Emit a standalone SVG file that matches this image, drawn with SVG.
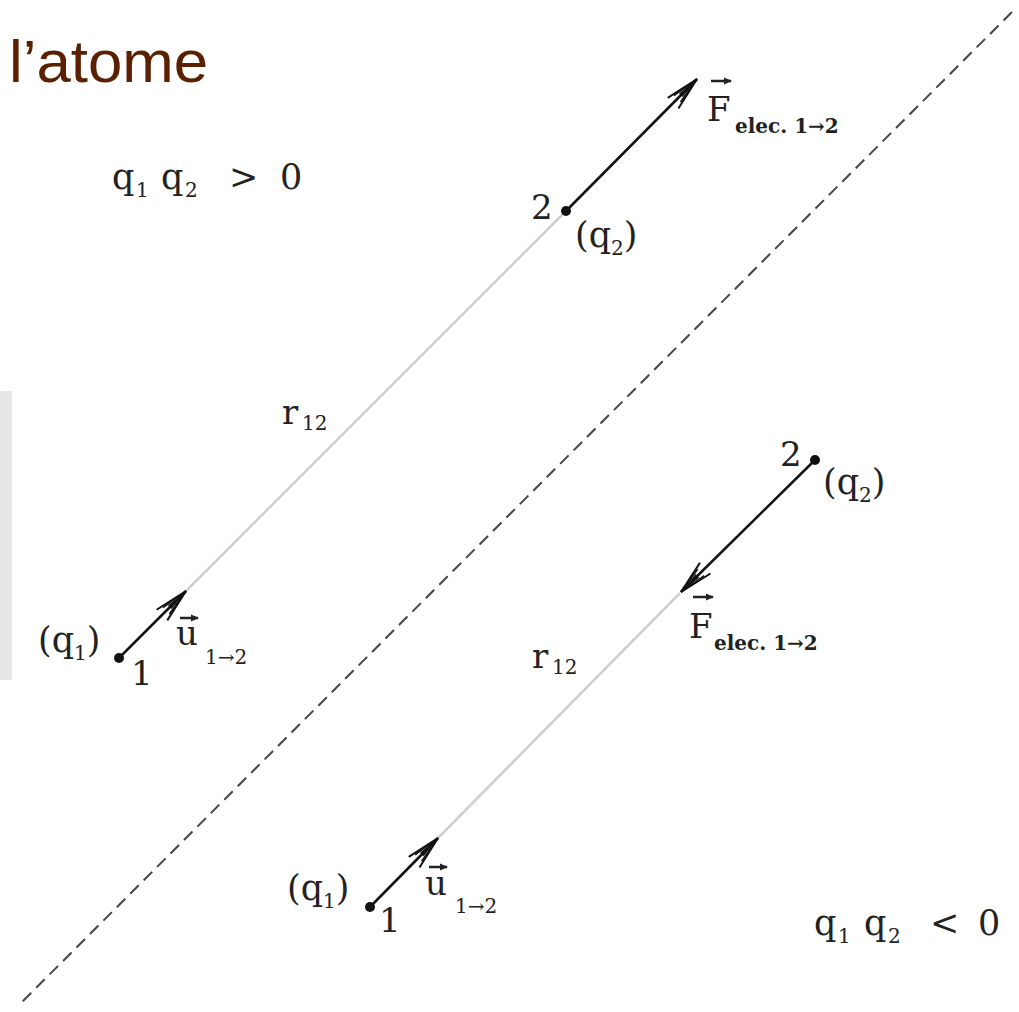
<svg xmlns="http://www.w3.org/2000/svg" width="1019" height="1012" viewBox="0 0 1019 1012">
<style>
.m{font-family:"DejaVu Serif","Liberation Serif",serif;fill:#222;}
.big{font-size:35px;}
.sub{font-size:20px;}
.lab{font-size:34px;}
.el{font-size:20px;font-weight:bold;}
.vec{stroke:#222;stroke-width:2.5;}
.r12{stroke:#cfcfcf;stroke-width:2.5;}
.arr{stroke:#111;stroke-width:2.5;}
</style>
<defs>
<marker id="harp" viewBox="0 0 36 20" refX="35" refY="10" markerUnits="userSpaceOnUse" markerWidth="36" markerHeight="20" orient="auto">
<path d="M1,2.5 L35,10 L1,17.5" fill="none" stroke="#111" stroke-width="2"/>
<path d="M7,5.5 L35,10 L7,14.5" fill="none" stroke="#111" stroke-width="1.5"/>
<path d="M12,7.5 L35,10 L12,12.5 Z" fill="#111"/>
</marker>
<marker id="vh" viewBox="0 0 8 8" refX="7" refY="4" markerUnits="userSpaceOnUse" markerWidth="8" markerHeight="8" orient="auto">
<path d="M0,0.5 L8,4 L0,7.5 Z" fill="#222"/>
</marker>
</defs>
<rect x="0" y="0" width="1019" height="1012" fill="#ffffff"/>
<rect id="sidebar" x="0" y="391" width="12" height="289" fill="#e6e6e6"/>
<text id="title" x="9" y="82" font-family="Liberation Sans, Arial, sans-serif" font-size="60" fill="#5a2000" textLength="199" lengthAdjust="spacingAndGlyphs">l’atome</text>

<g id="connectors">
<line id="divider" x1="1012" y1="12" x2="18" y2="1006" stroke="#444" stroke-width="2" stroke-dasharray="12 7"/>
<line class="r12" x1="186" y1="591" x2="566" y2="211"/>
<line class="arr" x1="119" y1="658" x2="186" y2="591" marker-end="url(#harp)"/>
<line class="arr" x1="566" y1="211" x2="697" y2="79" marker-end="url(#harp)"/>
<line class="r12" x1="438" y1="838" x2="680" y2="593"/>
<line class="arr" x1="370" y1="907" x2="438" y2="838" marker-end="url(#harp)"/>
<line class="arr" x1="815" y1="460" x2="681" y2="592" marker-end="url(#harp)"/>
</g>

<g id="node-upper-1">
<circle cx="119" cy="658" r="5" fill="#111"/>
<text class="m big" x="38" y="652">(q<tspan class="sub" dy="8">1</tspan><tspan dy="-8">)</tspan></text>
<text class="m lab" x="131" y="685">1</text>
</g>
<g id="node-upper-2">
<circle cx="566" cy="211" r="5" fill="#111"/>
<text class="m lab" x="531" y="219">2</text>
<text class="m big" x="575" y="247">(q<tspan class="sub" dy="8">2</tspan><tspan dy="-8">)</tspan></text>
</g>
<g id="label-upper-u">
<line class="vec" x1="180" y1="618" x2="198" y2="618" marker-end="url(#vh)"/>
<text class="m lab" x="176" y="645">u</text>
<text class="m sub" x="205" y="664">1→2</text>
</g>
<g id="label-upper-F">
<line class="vec" x1="711" y1="81" x2="731" y2="81" marker-end="url(#vh)"/>
<text class="m lab" x="707" y="121">F</text>
<text class="m el" x="735" y="133">elec. 1→2</text>
</g>
<g id="label-upper-r12">
<text class="m lab" x="282" y="424">r<tspan class="sub" x="302" dy="6">12</tspan></text>
</g>
<g id="label-upper-sign">
<text class="m big" x="112" y="189">q<tspan class="sub" x="136" dy="8">1</tspan><tspan x="161" dy="-8">q</tspan><tspan class="sub" x="185" dy="8">2</tspan><tspan x="229" dy="-8">&gt;</tspan><tspan x="280">0</tspan></text>
</g>

<g id="node-lower-1">
<circle cx="370" cy="907" r="5" fill="#111"/>
<text class="m big" x="287" y="900">(q<tspan class="sub" dy="8">1</tspan><tspan dy="-8">)</tspan></text>
<text class="m lab" x="379" y="932">1</text>
</g>
<g id="node-lower-2">
<circle cx="815" cy="460" r="5" fill="#111"/>
<text class="m lab" x="780" y="466">2</text>
<text class="m big" x="823" y="494">(q<tspan class="sub" dy="8">2</tspan><tspan dy="-8">)</tspan></text>
</g>
<g id="label-lower-u">
<line class="vec" x1="429" y1="867" x2="447" y2="867" marker-end="url(#vh)"/>
<text class="m lab" x="425" y="895">u</text>
<text class="m sub" x="455" y="913">1→2</text>
</g>
<g id="label-lower-F">
<line class="vec" x1="693" y1="597" x2="713" y2="597" marker-end="url(#vh)"/>
<text class="m lab" x="689" y="638">F</text>
<text class="m el" x="714" y="650">elec. 1→2</text>
</g>
<g id="label-lower-r12">
<text class="m lab" x="532" y="668">r<tspan class="sub" x="552" dy="6">12</tspan></text>
</g>
<g id="label-lower-sign">
<text class="m big" x="814" y="935">q<tspan class="sub" x="838" dy="8">1</tspan><tspan x="864" dy="-8">q</tspan><tspan class="sub" x="888" dy="8">2</tspan><tspan x="930" dy="-8">&lt;</tspan><tspan x="978">0</tspan></text>
</g>
</svg>
